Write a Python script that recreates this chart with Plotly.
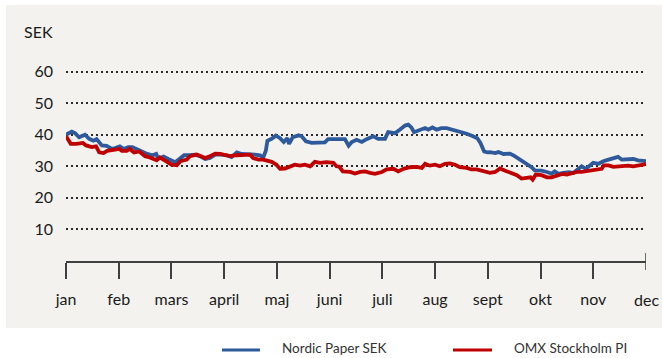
import plotly.graph_objects as go

# Month axis: positions 0..11 correspond to jan..dec
months = ["jan", "feb", "mars", "april", "maj", "juni", "juli", "aug", "sept", "okt", "nov", "dec"]

# Nordic Paper share price (SEK)
np_x = [0.00, 0.11, 0.17, 0.25, 0.36, 0.44, 0.52, 0.58, 0.68, 0.77, 0.82, 0.87, 0.93, 1.02, 1.09,
        1.18, 1.26, 1.34, 1.44, 1.54, 1.64, 1.71, 1.75, 1.85, 1.94, 2.07, 2.15, 2.24, 2.35, 2.45,
        2.54, 2.64, 2.73, 2.83, 2.95, 3.05, 3.14, 3.24, 3.33, 3.46, 3.58, 3.68, 3.74, 3.79, 3.82,
        3.90, 3.98, 4.06, 4.13, 4.20, 4.23, 4.30, 4.41, 4.47, 4.55, 4.66, 4.79, 4.91, 4.97, 5.10,
        5.20, 5.29, 5.36, 5.42, 5.51, 5.61, 5.70, 5.83, 5.92, 6.05, 6.11, 6.24, 6.33, 6.43, 6.49,
        6.55, 6.60, 6.71, 6.81, 6.87, 6.95, 7.03, 7.12, 7.22, 7.34, 7.47, 7.60, 7.72, 7.80, 7.86,
        7.93, 7.99, 8.04, 8.14, 8.20, 8.30, 8.42, 8.51, 8.61, 8.74, 8.83, 8.89, 9.02, 9.12, 9.21,
        9.27, 9.34, 9.43, 9.53, 9.62, 9.72, 9.78, 9.86, 9.94, 10.00, 10.10, 10.19, 10.29, 10.38,
        10.47, 10.54, 10.66, 10.76, 10.85, 10.95, 11.00]
np_sek = [40.0, 41.0, 40.5, 39.2, 40.0, 38.7, 38.1, 38.6, 36.6, 36.5, 36.0, 35.5, 35.8, 36.3, 35.5,
          36.1, 36.1, 35.5, 34.7, 33.9, 33.5, 33.9, 32.4, 33.1, 32.3, 31.3, 32.3, 33.5, 33.5, 33.7,
          33.2, 32.3, 32.6, 33.7, 33.7, 33.5, 32.9, 34.4, 33.9, 33.9, 33.7, 33.5, 32.8, 34.9, 38.1,
          38.7, 39.7, 38.9, 37.7, 38.9, 37.1, 39.2, 39.8, 39.5, 37.9, 37.4, 37.4, 37.6, 38.6, 38.7,
          38.7, 38.6, 36.5, 37.7, 38.4, 37.7, 38.6, 39.5, 38.7, 38.7, 40.8, 40.5, 41.6, 42.9, 43.2,
          42.3, 40.8, 41.6, 42.1, 41.6, 42.3, 41.6, 42.1, 42.1, 41.6, 40.8, 40.3, 39.5, 38.9, 37.4,
          34.7, 34.4, 34.5, 34.2, 34.5, 33.9, 34.0, 33.2, 32.1, 30.8, 29.7, 28.7, 28.6, 28.2, 27.7,
          28.4, 27.6, 27.9, 28.1, 27.9, 29.0, 30.0, 29.2, 30.5, 31.1, 30.8, 31.6, 32.1, 32.6,
          33.0, 32.1, 32.1, 32.3, 31.9, 31.6, 31.6]

# OMX Stockholm PI, rebased to the share price
omx_x = [0.00, 0.09, 0.20, 0.32, 0.38, 0.49, 0.57, 0.63, 0.71, 0.78, 0.90, 1.01, 1.06, 1.15, 1.21,
         1.29, 1.39, 1.50, 1.59, 1.72, 1.78, 1.91, 2.00, 2.10, 2.17, 2.29, 2.35, 2.48, 2.57, 2.64,
         2.73, 2.83, 2.92, 3.02, 3.11, 3.24, 3.36, 3.49, 3.55, 3.65, 3.74, 3.84, 3.90, 3.99, 4.06,
         4.15, 4.25, 4.34, 4.44, 4.53, 4.63, 4.72, 4.82, 4.94, 5.07, 5.13, 5.18, 5.25, 5.39, 5.48,
         5.58, 5.67, 5.77, 5.86, 5.99, 6.08, 6.21, 6.30, 6.40, 6.52, 6.65, 6.75, 6.81, 6.90, 7.00,
         7.09, 7.19, 7.28, 7.38, 7.47, 7.60, 7.69, 7.79, 7.88, 7.95, 8.04, 8.14, 8.23, 8.33, 8.42,
         8.55, 8.64, 8.74, 8.81, 8.85, 8.91, 9.02, 9.12, 9.21, 9.31, 9.41, 9.50, 9.59, 9.69, 9.78,
         9.88, 9.97, 10.06, 10.16, 10.20, 10.29, 10.38, 10.47, 10.57, 10.66, 10.76, 10.85, 10.95,
         11.00]
omx_pi = [39.5, 37.1, 37.1, 37.4, 36.6, 36.1, 36.3, 34.4, 34.2, 34.9, 35.2, 35.5, 34.9, 34.9, 35.5,
          34.4, 34.7, 33.2, 32.8, 31.9, 32.8, 31.4, 30.5, 30.3, 31.6, 32.1, 33.2, 33.7, 33.2, 32.6,
          33.2, 34.0, 33.9, 33.5, 33.2, 33.5, 33.5, 33.7, 32.6, 32.1, 32.1, 31.6, 31.4, 30.5, 29.2,
          29.3, 30.0, 30.5, 30.2, 30.5, 30.0, 31.4, 31.1, 31.3, 31.1, 30.0, 29.9, 28.4, 28.2, 27.7,
          28.2, 28.4, 27.9, 27.6, 28.2, 29.0, 29.2, 28.4, 29.2, 29.7, 29.8, 29.5, 30.8, 30.2, 30.5,
          30.0, 30.8, 30.9, 30.5, 29.7, 29.5, 29.0, 29.0, 28.6, 28.1, 27.9, 28.2, 29.3, 28.6, 28.1,
          27.2, 26.1, 26.3, 26.5, 25.8, 27.4, 27.2, 26.5, 26.5, 27.2, 27.6, 27.4, 27.9, 28.2, 28.2,
          28.4, 28.6, 29.0, 29.2, 30.3, 30.3, 29.8, 30.0, 30.0, 30.2, 30.0, 30.3, 30.5,
          30.7]

y_ticks = [10, 20, 30, 40, 50, 60]

BLUE = "#2e5a9c"
RED = "#c00000"
BG = "#f3f2ee"
FONT = "Lato"
TXT = "#1a1a1a"

fig = go.Figure()
fig.add_trace(go.Scatter(x=np_x, y=np_sek, mode="lines", name="Nordic Paper SEK",
                         line=dict(color=BLUE, width=3.8), showlegend=False))
fig.add_trace(go.Scatter(x=omx_x, y=omx_pi, mode="lines", name="OMX Stockholm PI",
                         line=dict(color=RED, width=3.8), showlegend=False))

W, H = 662, 358
L, R, T, B = 66, 16, 40, 97
pw, ph = W - L - R, H - T - B


def px(x):
    return (x - L) / pw


def py(y):
    return (H - B - y) / ph


shapes = [
    # grey panel behind the chart
    dict(type="rect", xref="paper", yref="paper", x0=px(6), x1=px(662), y0=py(328), y1=py(5),
         fillcolor=BG, line=dict(width=0), layer="below"),
    # end marker on the time axis
    dict(type="line", xref="x", yref="paper", x0=11, x1=11, y0=py(253), y1=py(270),
         line=dict(color="#404040", width=1.5)),
    # legend swatches
    dict(type="line", xref="paper", yref="paper", x0=px(222), x1=px(260), y0=py(350), y1=py(350),
         line=dict(color=BLUE, width=3)),
    dict(type="line", xref="paper", yref="paper", x0=px(453), x1=px(492), y0=py(350), y1=py(350),
         line=dict(color=RED, width=3)),
]

annotations = [
    dict(text="SEK", xref="paper", yref="paper", x=px(38), y=py(32), showarrow=False,
         xanchor="center", yanchor="middle", font=dict(family=FONT, size=16, color=TXT)),
    dict(text=months[11], xref="x", yref="paper", x=11, y=py(299), showarrow=False,
         xanchor="center", yanchor="middle", font=dict(family=FONT, size=16, color=TXT)),
    dict(text="Nordic Paper SEK", xref="paper", yref="paper", x=px(281), y=py(348), showarrow=False,
         xanchor="left", yanchor="middle", borderpad=0,
         font=dict(family=FONT, size=13.5, color="#333333")),
    dict(text="OMX Stockholm PI", xref="paper", yref="paper", x=px(513), y=py(348), showarrow=False,
         xanchor="left", yanchor="middle", borderpad=0,
         font=dict(family=FONT, size=13.5, color="#333333")),
]

fig.update_layout(
    width=W, height=H,
    margin=dict(l=L, r=R, t=T, b=B, pad=0),
    paper_bgcolor="white",
    plot_bgcolor="rgba(0,0,0,0)",
    showlegend=False,
    shapes=shapes,
    annotations=annotations,
    font=dict(family=FONT, size=16, color=TXT),
)

fig.update_xaxes(
    range=[0, 11],
    tickvals=list(range(11)),
    ticktext=months[:11],
    ticks="outside", ticklen=16, tickwidth=1.5, tickcolor="#404040",
    showline=True, linecolor="#404040", linewidth=1.5,
    showgrid=False, zeroline=False,
    ticklabelstandoff=7,
    tickfont=dict(family=FONT, size=16, color=TXT),
)

fig.update_yaxes(
    range=[0, 70],
    tickvals=y_ticks,
    showgrid=True, gridcolor="#2a2a2a", griddash="2px,3px", gridwidth=1.5,
    zeroline=False, showline=False, ticks="",
    ticklabelstandoff=12,
    tickfont=dict(family=FONT, size=16, color=TXT),
)

fig.write_html("out.html")
